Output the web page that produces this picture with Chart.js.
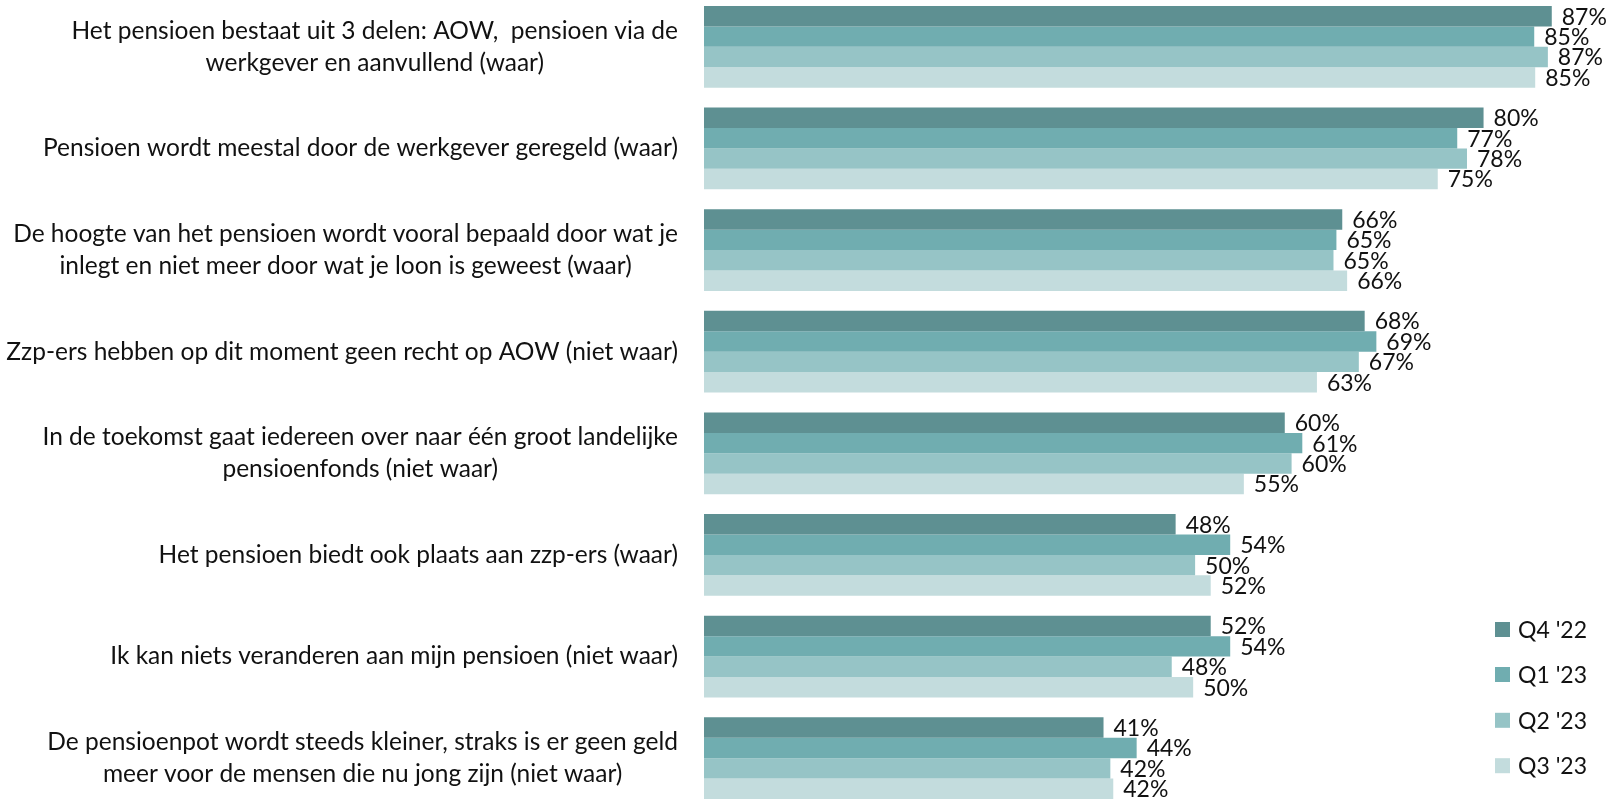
<!DOCTYPE html>
<html lang="nl">
<head>
    <meta charset="UTF-8">
    <title>Kennis over pensioen</title>
    <script src="https://cdn.jsdelivr.net/npm/chart.js"></script>
    <style>
        html, body { margin: 0; padding: 0; background: #fff; overflow: hidden; }
        #wrap { position: absolute; left: 0; top: -4px; width: 1609px; height: 813px; }
    </style>
</head>
<body>
    <div id="wrap"><canvas id="myChart"></canvas></div>
    <script>
        const categories = [
            ['Het pensioen bestaat uit 3 delen: AOW,  pensioen via de', 'werkgever en aanvullend (waar)'],
            ['Pensioen wordt meestal door de werkgever geregeld (waar)'],
            ['De hoogte van het pensioen wordt vooral bepaald door wat je', 'inlegt en niet meer door wat je loon is geweest (waar)'],
            ['Zzp-ers hebben op dit moment geen recht op AOW (niet waar)'],
            ['In de toekomst gaat iedereen over naar één groot landelijke', 'pensioenfonds (niet waar)'],
            ['Het pensioen biedt ook plaats aan zzp-ers (waar)'],
            ['Ik kan niets veranderen aan mijn pensioen (niet waar)'],
            ['De pensioenpot wordt steeds kleiner, straks is er geen geld', 'meer voor de mensen die nu jong zijn (niet waar)']
        ];
        const seriesNames = ["Q4 '22", "Q1 '23", "Q2 '23", "Q3 '23"];
        const q4_22 = [87.0, 80.0, 65.5, 67.8, 59.6, 48.4, 52.0, 41.0];
        const q1_23 = [85.2, 77.3, 64.9, 69.0, 61.4, 54.0, 54.0, 44.4];
        const q2_23 = [86.6, 78.3, 64.6, 67.2, 60.3, 50.4, 48.0, 41.7];
        const q3_23 = [85.3, 75.3, 66.0, 62.9, 55.4, 52.0, 50.2, 42.0];
        const colors = ['#5e9092', '#70adb0', '#96c4c6', '#c3dcdd'];

        const FONT = 'Lato';

        // category labels: block right aligned, lines centred in the block
        const catLabels = {
            id: 'catLabels',
            afterDraw(chart) {
                const ctx = chart.ctx;
                const y = chart.scales.y;
                ctx.save();
                ctx.font = '24.5px ' + FONT;
                ctx.fillStyle = '#111';
                ctx.textAlign = 'center';
                ctx.textBaseline = 'middle';
                const right = 678, lh = 32;
                categories.forEach((lines, i) => {
                    const w = Math.max(...lines.map(l => ctx.measureText(l).width));
                    const cx = right - w / 2;
                    const cy = y.getPixelForValue(i);
                    lines.forEach((l, k) => {
                        ctx.fillText(l, cx, cy + (k - (lines.length - 1) / 2) * lh);
                    });
                });
                ctx.restore();
            }
        };

        // value labels after bars
        const valueLabels = {
            id: 'valueLabels',
            afterDatasetsDraw(chart) {
                const ctx = chart.ctx;
                ctx.save();
                ctx.font = '23px ' + FONT;
                ctx.fillStyle = '#111';
                ctx.textAlign = 'left';
                ctx.textBaseline = 'middle';
                chart.data.datasets.forEach((ds, di) => {
                    chart.getDatasetMeta(di).data.forEach((bar, i) => {
                        ctx.fillText(Math.round(ds.data[i]) + '%', bar.x + 10, bar.y + 1);
                    });
                });
                ctx.restore();
            }
        };

        // legend, bottom right, vertical
        const sideLegend = {
            id: 'sideLegend',
            afterDraw(chart) {
                const ctx = chart.ctx;
                ctx.save();
                ctx.font = '23px ' + FONT;
                ctx.textBaseline = 'middle';
                ctx.textAlign = 'left';
                const ys = [633.5, 678.5, 724.3, 769.7];
                seriesNames.forEach((n, i) => {
                    ctx.fillStyle = colors[i];
                    ctx.fillRect(1495, ys[i] - 7.5, 15, 15);
                    ctx.fillStyle = '#111';
                    ctx.fillText(n, 1518, ys[i] + 1);
                });
                ctx.restore();
            }
        };

        window.addEventListener('load', drawChart);

        function drawChart() {
            const ctx = document.getElementById('myChart').getContext('2d');
            const datasets = [q4_22, q1_23, q2_23, q3_23].map((d, i) => ({
                label: seriesNames[i],
                data: d,
                backgroundColor: colors[i],
                borderWidth: 0,
                barPercentage: 1,
                categoryPercentage: 0.804
            }));
            new Chart(ctx, {
                type: 'bar',
                data: { labels: categories.map(c => c.join(' ')), datasets },
                options: {
                    indexAxis: 'y',
                    responsive: true,
                    maintainAspectRatio: false,
                    devicePixelRatio: 1,
                    animation: false,
                    layout: { padding: { left: 704, right: 28, top: 0, bottom: 0 } },
                    scales: {
                        x: { display: false, min: 0, max: 90 },
                        y: { display: false }
                    },
                    plugins: {
                        legend: { display: false },
                        tooltip: { enabled: false }
                    }
                },
                plugins: [catLabels, valueLabels, sideLegend]
            });
        }
    </script>
</body>
</html>
